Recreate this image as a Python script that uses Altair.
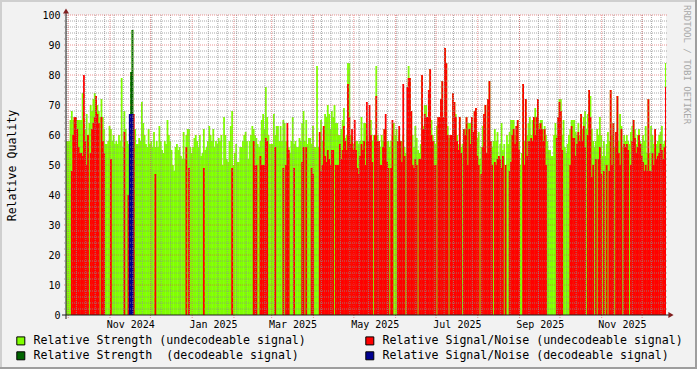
import altair as alt
import pandas as pd

# ---------------- data (daily values) ----------------
START = "2024-09-29"

# Relative Strength (undecodeable signal), one value per day from START
G = [
58,58,58,65,68,65,66,66,65,65,
65,65,74,65,62,67,60,64,70,68,
72,74,73,70,68,66,72,66,62,57,
57,58,63,62,58,60,57,58,57,60,
58,79,56,68,62,58,57,58,81,95,
62,62,57,57,59,58,71,64,60,57,
56,62,57,58,56,61,56,58,56,63,
58,55,54,58,57,65,60,58,55,50,
48,56,57,55,56,53,52,61,52,60,
62,62,56,54,56,59,60,58,56,60,
53,54,62,55,56,58,63,60,58,62,
56,58,57,59,58,60,50,66,60,52,
51,58,63,68,50,54,57,51,51,56,
56,58,60,61,58,52,58,60,63,62,
60,59,57,56,58,65,67,62,76,66,
60,57,57,57,67,60,63,63,58,63,
58,65,64,58,58,56,54,58,66,57,
58,56,56,59,58,64,68,58,65,57,
59,59,57,63,56,56,83,56,56,65,
58,63,67,66,70,67,62,68,66,70,
64,64,60,60,62,65,69,59,60,84,
84,60,60,57,57,58,58,57,58,66,
58,64,64,60,56,64,65,58,60,58,
83,60,58,56,60,58,62,62,58,58,
56,58,60,64,60,62,58,60,58,58,
60,56,54,62,83,79,68,60,56,63,
59,55,54,57,80,63,70,70,66,75,
82,65,60,58,57,63,66,66,72,78,
66,89,84,63,59,60,60,74,71,67,
60,57,66,56,57,62,62,66,64,64,
64,66,61,68,69,59,61,52,56,63,
67,70,54,72,78,58,56,58,62,58,
61,53,57,64,55,57,50,60,57,61,
65,65,65,60,63,65,58,50,54,77,
58,72,60,64,66,60,65,66,69,66,
72,64,65,65,62,63,60,58,55,55,
53,53,60,64,60,66,72,72,60,65,
56,54,57,60,62,65,65,65,61,60,
64,60,67,62,66,68,62,67,75,73,
62,58,56,58,62,60,66,60,53,58,
53,57,61,58,75,60,64,56,61,73,
58,67,63,56,60,58,60,58,57,61,
63,65,62,57,60,62,58,57,60,58,
63,54,72,54,63,60,57,62,57,58,
60,61,63,57,58,84,
]

# Relative Signal/Noise (undecodeable signal), 0 = no value that day
R = [
0,0,0,0,48,60,66,66,62,56,
54,54,53,80,58,50,60,0,54,62,
64,66,73,67,64,0,66,58,54,0,
0,0,0,52,0,0,0,0,0,0,
0,0,0,61,0,0,40,0,0,0,
67,0,0,0,0,0,0,0,0,0,
0,0,0,0,0,0,47,0,0,0,
0,0,0,0,0,0,0,0,0,0,
0,0,0,0,0,0,0,0,0,56,
0,49,0,0,0,0,0,0,0,0,
0,0,49,0,0,0,0,0,0,0,
0,0,0,0,0,0,0,0,0,0,
0,0,0,49,0,0,0,0,0,0,
0,0,0,0,0,0,0,0,0,58,
50,50,0,0,53,50,50,50,59,58,
0,0,0,0,0,56,0,0,0,0,
0,49,0,50,64,55,0,0,0,49,
0,0,0,0,0,51,56,0,56,0,
0,0,49,47,0,0,0,0,61,48,
50,63,53,51,55,52,50,55,55,0,
50,50,50,57,52,55,63,58,55,77,
66,57,62,55,65,55,49,47,53,57,
55,58,50,71,58,70,60,51,0,60,
73,58,58,50,50,56,62,67,51,49,
0,49,65,0,0,0,58,63,58,51,
77,53,0,76,79,79,68,50,49,52,
50,0,52,52,80,62,67,66,66,75,
82,60,58,50,50,0,66,66,72,78,
66,89,84,60,0,60,60,74,71,66,
58,55,66,54,0,62,60,66,50,62,
57,66,61,68,69,53,50,0,47,56,
67,70,54,72,78,58,50,0,51,50,
52,53,52,49,53,0,50,0,0,48,
51,60,62,57,63,65,55,0,0,77,
50,72,53,58,58,59,58,66,60,66,
72,62,64,62,58,62,50,0,0,0,
0,0,0,0,59,66,71,68,55,0,
0,0,0,0,50,63,59,59,53,57,
61,58,67,58,63,56,0,60,75,66,
46,50,0,52,0,52,56,47,0,48,
0,50,0,48,75,50,64,0,61,73,
54,50,62,0,57,56,57,55,0,50,
58,65,59,54,56,60,57,53,51,48,
50,48,72,48,48,54,50,62,52,53,
54,57,55,52,56,76,
]

# Decodeable signal (only a few days)
DG_DATES = ["2024-11-16", "2024-11-17"]
DG = [81, 95]
B_DATES = ["2024-11-15", "2024-11-16", "2024-11-17"]
B = [67, 67, 67]

LABELS = [
    "Relative Strength (undecodeable signal)",
    "Relative Signal/Noise (undecodeable signal)",
    "Relative Strength\u00a0 (decodeable signal)",
    "Relative Signal/Noise (decodeable signal)",
]
COLORS = ["#80FF00", "#FF0000", "#006400", "#000090"]

X_LABEL_DATES = [(2024, 11, 16, 0), (2025, 1, 16, 12), (2025, 3, 16, 12), (2025, 5, 16, 12),
                 (2025, 7, 16, 12), (2025, 9, 16, 0), (2025, 11, 16, 0)]
Y_TICKS = list(range(0, 101, 10))
Y_MINOR = [v for v in range(2, 100, 2) if v % 10]
WATERMARK = "RRDTOOL / TOBI OETIKER"

# ---------------- helpers ----------------
FONT = "DejaVu Sans Mono"
ONE_DAY = pd.Timedelta(days=1)
OVERLAP = pd.Timedelta(hours=8)


def series_df(dates, vals, label):
    dates = pd.to_datetime(pd.Series(dates))
    df = pd.DataFrame({"start": dates, "end": dates + ONE_DAY + OVERLAP, "v": vals, "s": label})
    return df[df.v > 0].reset_index(drop=True)


n = len(G)
all_dates = pd.date_range(START, periods=n, freq="D")
R_full = (R + [0] * n)[:n]

dfs = [
    series_df(all_dates, G, LABELS[0]),
    series_df(all_dates, R_full, LABELS[1]),
    series_df(DG_DATES, DG, LABELS[2]),
    series_df(B_DATES, B, LABELS[3]),
]

W, H = 600, 300
XSCALE = alt.Scale(domain=[alt.DateTime(year=2024, month=9, date=29, hours=8),
                           alt.DateTime(year=2025, month=12, date=18, hours=17, minutes=40)],
                   range=[0, W], padding=0)
XAXIS = alt.Axis(values=[alt.DateTime(year=y, month=m, date=d, hours=h) for (y, m, d, h) in X_LABEL_DATES],
                 format="%b %Y", labelFont=FONT, labelFontSize=10, labelColor="#000000",
                 ticks=False, domain=False, grid=False, labelPadding=4, title=None,
                 labelFlush=False, labelOverlap=False)
YSCALE = alt.Scale(domain=[0, 100], range=[H, 0], nice=False, zero=False, padding=0)
YAXIS = alt.Axis(values=Y_TICKS, labelFont=FONT, labelFontSize=10, labelColor="#000000",
                 ticks=False, domain=False, grid=False, labelPadding=6,
                 title="Relative Quality", titleFont=FONT, titleFontSize=11.6,
                 titleFontWeight="normal", titleColor="#000000",
                 titleX=-54, titleY=150, titleAngle=270, titleAlign="center",
                 titleBaseline="middle")
LEGEND = alt.Legend(orient="none", legendX=-51, legendY=320, direction="horizontal",
                    columns=2, columnPadding=57,
                    rowPadding=2, symbolType="square", symbolSize=64,
                    symbolStrokeColor="#000000", symbolStrokeWidth=1, symbolOpacity=1,
                    labelFont=FONT, labelFontSize=11.6, labelColor="#000000",
                    labelOffset=7, labelLimit=0, title=None, padding=0)
CSCALE = alt.Scale(domain=LABELS, range=COLORS)

X = alt.X("start:T", scale=XSCALE, axis=XAXIS)
Y = alt.Y("v:Q", scale=YSCALE, axis=YAXIS)

layers = []
for df in dfs:
    layers.append(
        alt.Chart(df).mark_rect(clip=True).encode(
            x=X, x2="end:T", y=Y, y2=alt.datum(0),
            color=alt.Color("s:N", scale=CSCALE, legend=LEGEND),
        )
    )

# ---------------- grid (drawn over the data, as rrdtool does) ----------------
GRID_MINOR = "rgba(143,143,143,0.75)"
GRID_MAJOR = "rgba(222,79,79,0.6)"

weeks = pd.DataFrame({"start": pd.date_range("2024-09-30", "2025-12-15", freq="W-MON")})
months = pd.DataFrame({"start": pd.date_range("2024-10-01", "2025-12-01", freq="MS")})
hminor = pd.DataFrame({"v": Y_MINOR})
hmajor = pd.DataFrame({"v": Y_TICKS[1:]})

layers.append(alt.Chart(hminor).mark_rule(color=GRID_MINOR, strokeDash=[1, 1], strokeWidth=1).encode(
    y=Y, x=alt.value(-2), x2=alt.value(W + 2)))
layers.append(alt.Chart(weeks).mark_rule(color=GRID_MINOR, strokeDash=[1, 1], strokeWidth=1).encode(
    x=X, y=alt.value(0), y2=alt.value(H)))
layers.append(alt.Chart(hmajor).mark_rule(color=GRID_MAJOR, strokeDash=[1, 1], strokeWidth=1).encode(
    y=Y, x=alt.value(-2), x2=alt.value(W + 2)))
layers.append(alt.Chart(months).mark_rule(color=GRID_MAJOR, strokeDash=[1, 1], strokeWidth=1).encode(
    x=X, y=alt.value(0), y2=alt.value(H + 3)))

# ---------------- axes lines, arrows, frame, watermark ----------------
one = pd.DataFrame({"k": [0]})
AXIS_COL = "#1F1F1F"
ARROW_COL = "#801F1F"
layers.append(alt.Chart(one).mark_rule(color=AXIS_COL, strokeWidth=1).encode(
    x=alt.value(-4), x2=alt.value(W + 3), y=alt.value(H)))
layers.append(alt.Chart(one).mark_rule(color=AXIS_COL, strokeWidth=1).encode(
    x=alt.value(0), y=alt.value(-3), y2=alt.value(H + 4)))
layers.append(alt.Chart(one).mark_point(shape="triangle-right", filled=True, size=36,
                                        color=ARROW_COL, opacity=1).encode(
    x=alt.value(W + 5), y=alt.value(H)))
layers.append(alt.Chart(one).mark_point(shape="triangle-up", filled=True, size=36,
                                        color=ARROW_COL, opacity=1).encode(
    x=alt.value(0), y=alt.value(-4)))
# outer 3D frame
layers.append(alt.Chart(one).mark_rule(color="#CFCFCF", strokeWidth=2).encode(
    x=alt.value(-66), x2=alt.value(631), y=alt.value(-14)))
layers.append(alt.Chart(one).mark_rule(color="#CFCFCF", strokeWidth=2).encode(
    x=alt.value(-65), y=alt.value(-15), y2=alt.value(354)))
layers.append(alt.Chart(one).mark_rule(color="#9E9E9E", strokeWidth=2).encode(
    x=alt.value(-66), x2=alt.value(631), y=alt.value(353)))
layers.append(alt.Chart(one).mark_rule(color="#9E9E9E", strokeWidth=2).encode(
    x=alt.value(630), y=alt.value(-15), y2=alt.value(354)))
layers.append(alt.Chart(pd.DataFrame({"t": [WATERMARK]})).mark_text(
    angle=90, align="left", baseline="middle", font=FONT, fontSize=9, color="#A8A8A8").encode(
    text="t:N", x=alt.value(621), y=alt.value(-10)))

chart = alt.layer(*layers).properties(
    width=W, height=H, background="#F2F2F2",
    padding={"left": 66, "top": 15, "right": 31, "bottom": 54},
    autosize=alt.AutoSizeParams(type="none"),
).configure_view(stroke=None, fill="#FFFFFF")

chart.save("out.html", embed_options={"renderer": "svg", "actions": False})
